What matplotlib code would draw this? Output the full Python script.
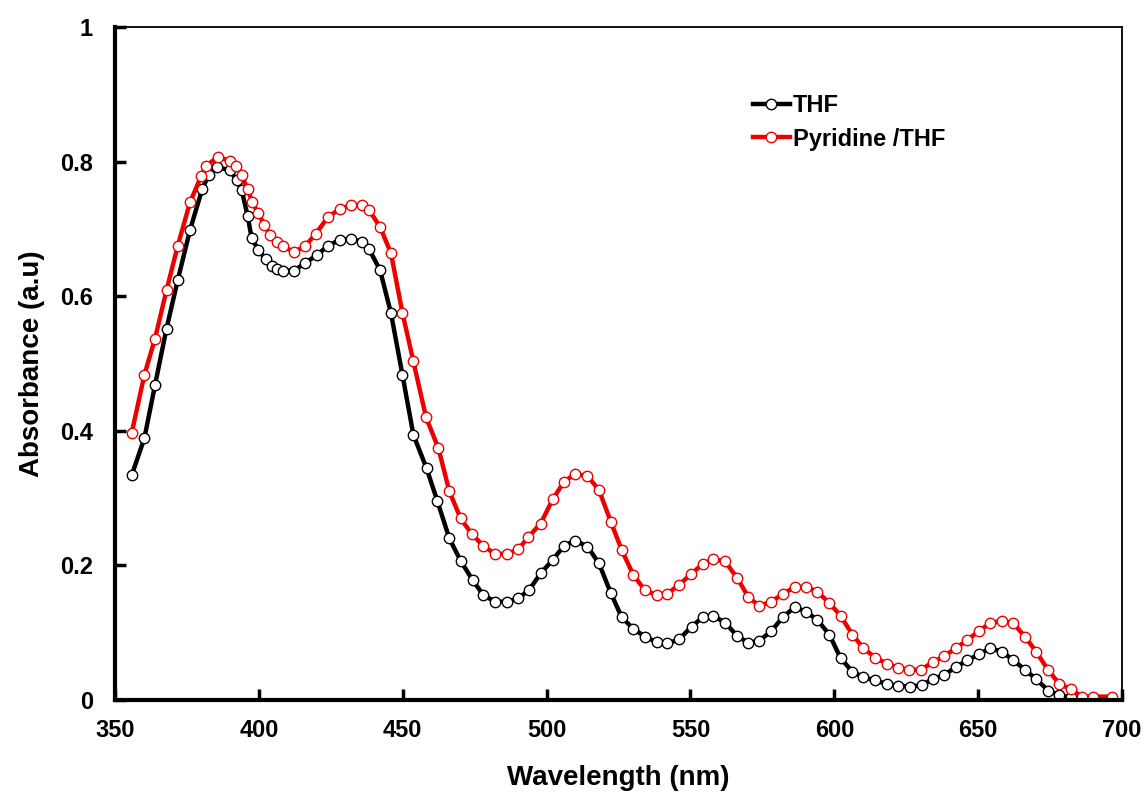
import matplotlib.pyplot as plt

# --- DATA ---
wl_thf = [355.8, 360.2, 363.9, 367.9, 371.8, 376.1, 380.3, 382.5, 385.3, 390.0,
          392.3, 394.0, 396.1, 397.5, 399.8, 402.3, 404.5, 406.4, 408.3, 412.2,
          416.0, 420.1, 424.1, 428.2, 432.0, 435.7, 438.3, 442.1, 445.9, 449.9,
          453.7, 458.3, 462.0, 466.2, 470.1, 474.3, 478.0, 482.1, 486.1, 490.2,
          494.0, 497.9, 502.1, 506.0, 509.9, 514.2, 518.2, 522.3, 526.1, 530.1,
          534.2, 538.2, 542.0, 546.0, 550.4, 554.2, 558.0, 562.0, 566.3, 570.1,
          573.9, 578.0, 582.3, 586.3, 590.2, 594.1, 598.3, 602.2, 606.3, 610.1,
          614.2, 618.2, 622.3, 626.3, 630.3, 634.2, 638.1, 642.3, 646.2, 650.4,
          654.1, 658.2, 662.2, 666.3, 670.1, 674.4, 678.2, 682.3, 686.0, 690.0]
abs_thf = [0.334, 0.389, 0.468, 0.552, 0.624, 0.699, 0.759, 0.780, 0.792, 0.787,
           0.772, 0.758, 0.719, 0.686, 0.669, 0.655, 0.645, 0.640, 0.638, 0.638,
           0.649, 0.661, 0.675, 0.684, 0.685, 0.681, 0.670, 0.639, 0.575, 0.483,
           0.394, 0.344, 0.296, 0.240, 0.207, 0.178, 0.156, 0.146, 0.146, 0.151,
           0.164, 0.188, 0.208, 0.229, 0.237, 0.228, 0.203, 0.159, 0.123, 0.106,
           0.094, 0.086, 0.084, 0.090, 0.109, 0.123, 0.125, 0.115, 0.095, 0.085,
           0.088, 0.102, 0.124, 0.138, 0.131, 0.119, 0.097, 0.062, 0.042, 0.034,
           0.029, 0.024, 0.021, 0.020, 0.022, 0.031, 0.037, 0.049, 0.059, 0.068,
           0.077, 0.072, 0.059, 0.045, 0.031, 0.014, 0.007, 0.004, 0.002, 0.002]

wl_pyr = [355.8, 360.2, 363.9, 367.9, 371.8, 376.1, 379.9, 381.5, 385.7, 390.0,
          392.0, 394.0, 396.1, 397.7, 399.8, 401.9, 403.9, 406.2, 408.3, 412.2,
          416.0, 419.8, 423.9, 428.2, 432.0, 435.7, 438.3, 442.1, 445.9, 449.9,
          453.7, 458.1, 462.4, 466.2, 470.1, 473.9, 478.0, 482.1, 486.1, 490.2,
          493.6, 497.9, 502.1, 506.0, 509.9, 514.2, 518.2, 522.3, 526.1, 530.1,
          534.2, 538.2, 542.0, 546.0, 550.2, 554.2, 558.0, 562.0, 566.3, 570.1,
          573.9, 578.0, 582.3, 586.3, 590.2, 594.1, 598.3, 602.2, 606.3, 610.1,
          614.2, 618.2, 622.3, 626.1, 630.1, 634.2, 638.1, 642.3, 646.2, 650.4,
          654.1, 658.2, 662.2, 666.3, 670.1, 674.4, 678.2, 682.3, 686.0, 690.0,
          696.4]
abs_pyr = [0.397, 0.483, 0.537, 0.609, 0.675, 0.740, 0.778, 0.793, 0.807, 0.801,
           0.793, 0.780, 0.759, 0.740, 0.723, 0.706, 0.691, 0.681, 0.674, 0.666,
           0.674, 0.693, 0.717, 0.730, 0.735, 0.735, 0.728, 0.703, 0.664, 0.575,
           0.503, 0.420, 0.374, 0.310, 0.270, 0.247, 0.229, 0.217, 0.217, 0.224,
           0.242, 0.262, 0.298, 0.324, 0.336, 0.333, 0.312, 0.265, 0.223, 0.186,
           0.163, 0.156, 0.158, 0.171, 0.187, 0.202, 0.209, 0.206, 0.181, 0.153,
           0.140, 0.146, 0.158, 0.168, 0.168, 0.161, 0.144, 0.125, 0.097, 0.077,
           0.063, 0.054, 0.048, 0.045, 0.045, 0.056, 0.065, 0.077, 0.089, 0.103,
           0.114, 0.118, 0.114, 0.094, 0.072, 0.044, 0.024, 0.016, 0.005, 0.005,
           0.005]

x_ticks = [350, 400, 450, 500, 550, 600, 650, 700]
y_ticks = [0, 0.2, 0.4, 0.6, 0.8, 1]
y_tick_labels = ['0', '0.2', '0.4', '0.6', '0.8', '1']

plt.rcParams['font.family'] = ['Liberation Sans', 'DejaVu Sans']
plt.rcParams['font.weight'] = 'bold'

fig = plt.figure(figsize=(11.48, 7.99), dpi=100)
ax = fig.add_axes([0.1002, 0.1239, 0.8772, 0.8423])

ax.plot(wl_thf, abs_thf, color='black', lw=3.2, marker='o', ms=7.5,
        mfc='white', mec='black', mew=1.0, label='THF')
ax.plot(wl_pyr, abs_pyr, color='#ee0000', lw=3.2, marker='o', ms=7.5,
        mfc='white', mec='#ee0000', mew=1.0, label='Pyridine /THF')

ax.set_xlim(350, 700)
ax.set_ylim(0, 1)
ax.set_xticks(x_ticks)
ax.set_yticks(y_ticks)
ax.set_yticklabels(y_tick_labels)
ax.tick_params(direction='in', length=8, width=2.5, labelsize=17)
ax.tick_params(axis='x', pad=14)
ax.tick_params(axis='y', pad=16)

for side in ['left', 'bottom']:
    ax.spines[side].set_linewidth(3)
for side in ['top', 'right']:
    ax.spines[side].set_linewidth(1.3)

ax.set_xlabel('Wavelength (nm)', fontsize=20, fontweight='bold', labelpad=16)
ax.set_ylabel('Absorbance (a.u)', fontsize=20, fontweight='bold', labelpad=11)

ax.legend(loc='upper left', bbox_to_anchor=(0.612, 0.932), frameon=False,
          handlelength=1.6, handletextpad=0.1, labelspacing=0.45,
          prop={'weight': 'bold', 'size': 17})

fig.savefig('out.png', dpi=100)
